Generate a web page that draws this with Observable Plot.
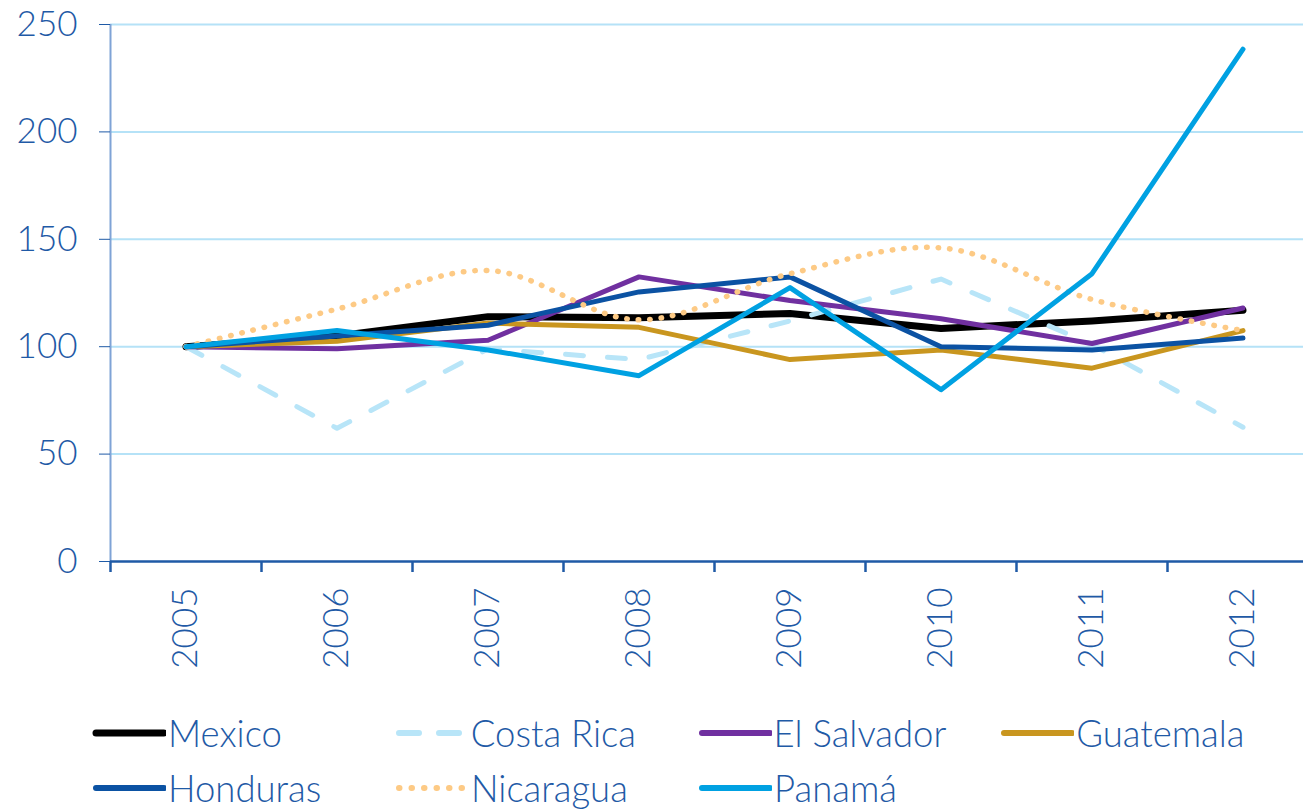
<!DOCTYPE html>
<html>
<head>
<meta charset="utf-8">
<script src="https://cdn.jsdelivr.net/npm/d3@7"></script>
<script src="https://cdn.jsdelivr.net/npm/@observablehq/plot@0.6"></script>
<style>
  html, body { margin: 0; padding: 0; background: #fff; }
  #chart { width: 1303px; }
  .legend { font-family: Lato, "Liberation Sans", sans-serif; font-weight: 300; font-size: 36.5px; color: #1f5aa6; padding-top: 5px; }
  .row { display: flex; height: 55px; align-items: center; padding-left: 92px; }
  .item { display: flex; align-items: center; width: 303px; }
  .item svg { margin-right: 2px; flex: none; }
</style>
</head>
<body>
<div id="chart"></div>
<script>
const years = [2005, 2006, 2007, 2008, 2009, 2010, 2011, 2012];
const yTicks = [0, 50, 100, 150, 200, 250];
const seriesNames = ["Mexico", "Costa Rica", "El Salvador", "Guatemala", "Honduras", "Nicaragua", "Panamá"];
const mexico     = [100, 105,   114,   113.5, 115.5, 108.5, 112,   117];
const costaRica  = [100, 62,    99,    94,    112,   131.5, 101,   62.5];
const elSalvador = [100, 99,    103,   132.5, 121.5, 113,   101.5, 118];
const guatemala  = [100, 102.5, 111,   109,   94,    98.5,  90,    107.5];
const honduras   = [100, 105,   110,   125.5, 132.5, 100,   98.5,  104];
const nicaragua  = [100, 117.5, 135.5, 112.5, 134,   146,   122,   107.5];
const panama     = [100, 107.5, 98.5,  86.5,  127.5, 80,    134,   238.5];

const values = [mexico, costaRica, elSalvador, guatemala, honduras, nicaragua, panama];
const styles = {
  "Mexico":      {stroke: "#000000", strokeWidth: 7},
  "Costa Rica":  {stroke: "#b8e5f8", strokeWidth: 5, strokeDasharray: "18,24", strokeLinecap: "round"},
  "El Salvador": {stroke: "#7030a0", strokeWidth: 5},
  "Guatemala":   {stroke: "#c9961f", strokeWidth: 5},
  "Honduras":    {stroke: "#0b52a3", strokeWidth: 5},
  "Nicaragua":   {stroke: "#fdca85", strokeWidth: 5.5, strokeDasharray: "0.5,11", strokeLinecap: "round", curve: "catmull-rom"},
  "Panamá":      {stroke: "#00a1e2", strokeWidth: 5}
};

const rows = seriesNames.flatMap((name, i) => years.map((yr, j) => ({series: name, year: yr, value: values[i][j]})));
const bounds = years.map(y => y - 0.5);

const axisColor = "#1f5aa6";

const lineMarks = seriesNames.map(name => {
  const s = styles[name];
  return Plot.line(rows.filter(d => d.series === name), {
    x: "year", y: "value",
    stroke: s.stroke, strokeWidth: s.strokeWidth,
    strokeDasharray: s.strokeDasharray,
    strokeLinecap: s.strokeLinecap || "round",
    strokeLinejoin: "round",
    curve: s.curve || "linear"
  });
});

const plot = Plot.plot({
  width: 1303,
  height: 700,
  marginTop: 24,
  marginBottom: 139,
  marginLeft: 110,
  marginRight: 0,
  style: {fontFamily: "Lato, 'Liberation Sans', sans-serif", fontSize: "35px", fontWeight: 300, color: axisColor, background: "#fff"},
  x: {type: "linear", domain: [years[0] - 0.5, years[years.length - 1] + 0.5], range: [110, 1318]},
  y: {domain: [0, 250]},
  marks: [
    Plot.gridY(yTicks.slice(1), {stroke: "#b5e2f7", strokeOpacity: 1, strokeWidth: 2}),
    Plot.ruleX([bounds[0]], {y1: 0, y2: 250, stroke: "#7fa3d6", strokeWidth: 2}),
    Plot.axisY({ticks: yTicks, tickSize: 11, tickPadding: 22, tickFormat: d => String(d), label: null, stroke: axisColor}),
    Plot.axisX({ticks: bounds, tickSize: 11, tickFormat: () => "", label: null, stroke: axisColor, strokeWidth: 2.5}),
    Plot.axisX({ticks: years, tickSize: 0, tickPadding: 26, tickRotate: -90, tickFormat: d => String(d), label: null}),
    Plot.ruleY([0], {stroke: axisColor, strokeWidth: 2.5}),
    ...lineMarks
  ]
});
document.getElementById("chart").appendChild(plot);

// Legend
const legend = document.createElement("div");
legend.className = "legend";
const legendRows = [seriesNames.slice(0, 4), seriesNames.slice(4)];
legendRows.forEach(r => {
  const row = document.createElement("div");
  row.className = "row";
  r.forEach(name => {
    const s = styles[name];
    const item = document.createElement("div");
    item.className = "item";
    const dash = name === "Costa Rica" ? "20,20" : (name === "Nicaragua" ? "0.5,12" : null);
    const sw = d3.create("svg").attr("width", 74).attr("height", 20);
    sw.append("line")
      .attr("x1", 4).attr("x2", 72).attr("y1", 10).attr("y2", 10)
      .attr("stroke", s.stroke).attr("stroke-width", name === "Mexico" ? 7 : 6)
      .attr("stroke-linecap", "round")
      .attr("stroke-dasharray", dash);
    item.appendChild(sw.node());
    const t = document.createElement("span");
    t.textContent = name;
    item.appendChild(t);
    row.appendChild(item);
  });
  legend.appendChild(row);
});
document.body.appendChild(legend);
</script>
</body>
</html>
